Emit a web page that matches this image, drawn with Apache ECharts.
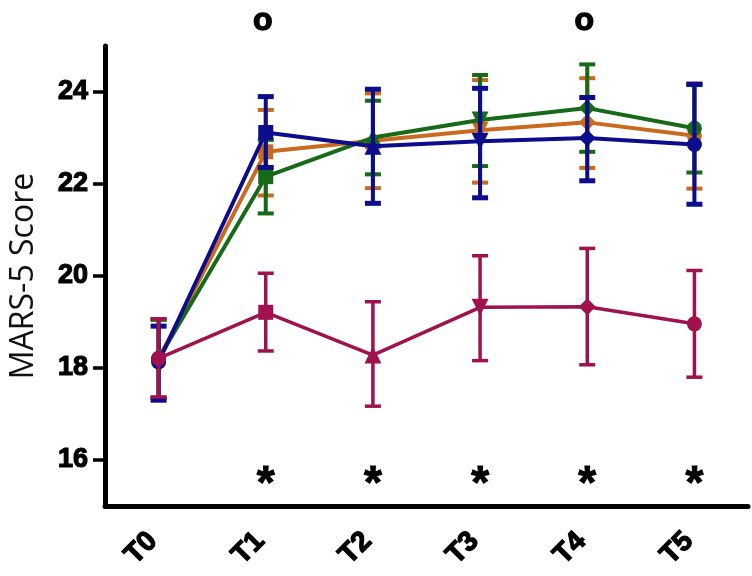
<!DOCTYPE html>
<html><head><meta charset="utf-8">
<script src="https://cdn.jsdelivr.net/npm/echarts@6/dist/echarts.min.js"></script>
<style>html,body{margin:0;padding:0;background:#fff}#c{width:752px;height:576px}</style>
</head><body><div id="c"></div>
<script>
const categories = ['T0','T1','T2','T3','T4','T5'];
const yTicks = [16,18,20,22,24];
const pointSymbols = ['circle','rect','triangle','triangle','diamond','circle'];
const pointRotations = [0,0,0,180,0,0];

const orangeMean = [18.2, 22.70, 22.94, 23.17, 23.34, 23.05];
const orangeLow  = [17.35, 21.75, 21.91, 22.03, 22.35, 21.90];
const orangeHigh = [19.05, 23.61, 23.97, 24.26, 24.30, 24.18];

const greenMean = [18.2, 22.16, 23.01, 23.39, 23.65, 23.21];
const greenLow  = [17.35, 21.36, 22.21, 22.39, 22.70, 22.25];
const greenHigh = [19.05, 22.96, 23.81, 24.37, 24.60, 24.15];

const blueMean = [18.13, 23.12, 22.82, 22.93, 23.00, 22.86];
const blueLow  = [17.30, 22.36, 21.58, 21.70, 22.07, 21.56];
const blueHigh = [18.91, 23.90, 24.06, 24.08, 23.88, 24.17];

const magentaMean = [18.21, 19.21, 18.28, 19.32, 19.33, 18.96];
const magentaLow  = [17.37, 18.37, 17.17, 18.16, 18.07, 17.80];
const magentaHigh = [19.07, 20.06, 19.44, 20.44, 20.60, 20.12];

const starCats = ['T1','T2','T3','T4','T5'];
const circleCats = ['T1','T4'];
const starLevel = 15.45;
const circleLevel = 25.55;

const groups = [
  {name:'orange', color:'#c96a1e', mean:orangeMean, low:orangeLow, high:orangeHigh, lw:4, cw:4},
  {name:'green', color:'#166a18', mean:greenMean, low:greenLow, high:greenHigh, lw:4, cw:4},
  {name:'blue', color:'#0c0c8c', mean:blueMean, low:blueLow, high:blueHigh, lw:4, cw:5},
  {name:'magenta', color:'#a0124f', mean:magentaMean, low:magentaLow, high:magentaHigh, lw:3.5, cw:3.5}
];

const series = [];
groups.forEach((g, gi) => {
  series.push({
    type:'custom', name:g.name+'-err', z: 2 + gi*2,
    data: categories.map((c,i)=>[i, g.low[i], g.high[i]]),
    renderItem: function(params, api){
      const x = api.value(0);
      const lo = api.coord([x, api.value(1)]);
      const hi = api.coord([x, api.value(2)]);
      const hw = 8;
      const st = {stroke:g.color, lineWidth:g.cw};
      return {type:'group', children:[
        {type:'line', shape:{x1:lo[0],y1:lo[1],x2:hi[0],y2:hi[1]}, style:{stroke:g.color, lineWidth:g.lw}},
        {type:'line', shape:{x1:lo[0]-hw,y1:lo[1],x2:lo[0]+hw,y2:lo[1]}, style:st},
        {type:'line', shape:{x1:hi[0]-hw,y1:hi[1],x2:hi[0]+hw,y2:hi[1]}, style:st}
      ]};
    }
  });
  series.push({
    type:'line', name:g.name, z: 3 + gi*2,
    data: g.mean.map((v,i)=>({value:v, symbol:pointSymbols[i], symbolRotate:pointRotations[i],
      symbolSize: pointSymbols[i]==='rect'?15:(pointSymbols[i]==='circle'?15:17)})),
    lineStyle:{color:g.color, width:g.lw},
    itemStyle:{color:g.color},
    showAllSymbol:true
  });
});

const annLabel = {show:true, position:'inside', fontWeight:'bold', color:'#000', opacity:1,
  textBorderColor:'#000', fontFamily:'Liberation Sans'};
series.push({
  type:'scatter', z:20, clip:false, symbolSize:0, itemStyle:{color:'#000', opacity:1},
  data: starCats.map(c=>[c, starLevel]),
  label:Object.assign({}, annLabel, {formatter:'*', fontSize:46, textBorderWidth:1})
});
series.push({
  type:'scatter', z:20, clip:false, symbolSize:0, itemStyle:{color:'#000', opacity:1},
  data: circleCats.map(c=>[c, circleLevel]),
  label:Object.assign({}, annLabel, {formatter:'o', fontSize:32, textBorderWidth:1.4, offset:[-3,0]})
});

const chart = echarts.init(document.getElementById('c'));
chart.setOption({
  animation:false,
  backgroundColor:'#fff',
  grid:{left:100, right:4, top:46, bottom:70},
  xAxis:{
    type:'category', data:categories, boundaryGap:true,
    axisLine:{lineStyle:{color:'#000', width:5}},
    axisTick:{alignWithLabel:true, length:11, lineStyle:{width:4, color:'#000'}},
    axisLabel:{rotate:45, margin:25, padding:[0,8,0,0], fontSize:28, fontWeight:'bold', color:'#000', fontFamily:'Liberation Sans',
      textBorderColor:'#000', textBorderWidth:1.3}
  },
  yAxis:{
    type:'value', min:15, max:25,
    name:'MARS-5 Score', nameLocation:'middle', nameGap:65,
    nameTextStyle:{fontSize:32, color:'#111', fontFamily:'Open Sans'},
    axisLine:{show:true, lineStyle:{color:'#000', width:5}},
    splitLine:{show:false},
    axisTick:{show:true, length:12, customValues:yTicks, lineStyle:{width:3.5, color:'#000'}},
    axisLabel:{customValues:yTicks, margin:17, fontSize:27, fontWeight:'bold', color:'#000', fontFamily:'Liberation Sans',
      textBorderColor:'#000', textBorderWidth:1.2}
  },
  series: series
});
</script></body></html>
